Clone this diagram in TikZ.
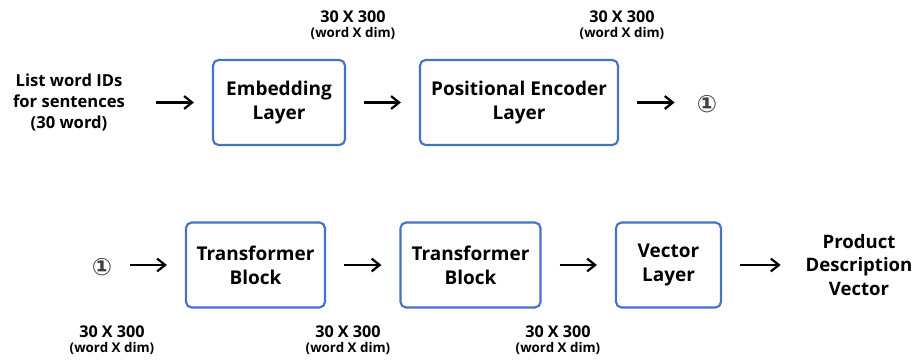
\documentclass[tikz,border=0pt]{standalone}
\usepackage{fontspec}
\setmainfont{Open Sans}
\newfontfamily\circfont{DejaVu Sans}
\usetikzlibrary{arrows.meta}
\definecolor{boxblue}{RGB}{68,114,196}
\definecolor{circgray}{RGB}{64,64,64}

\begin{document}
\begin{tikzpicture}[x=0.025cm,y=-0.025cm,
    layer/.style={draw=boxblue, line width=1.5pt, rounded corners=4pt, align=center,
        font=\bfseries\fontsize{13.5}{17}\selectfont, minimum height=2.125cm},
    txt/.style={align=center, font=\bfseries\fontsize{13.2}{17}\selectfont},
    circ/.style={inner sep=0pt, text=circgray, font=\circfont\bfseries\fontsize{17}{17}\selectfont},
    dimlbl/.style={align=center, font=\bfseries\fontsize{11.5}{14}\selectfont},
    flow/.style={-{Straight Barb[length=2mm,width=3.2mm]}, line width=1.6pt,
        shorten <=0.45cm, shorten >=0.45cm}]
    \useasboundingbox (0,0) rectangle (916,360);

    % first row
    \node[txt, font=\bfseries\fontsize{11.8}{15}\selectfont] (ids) at (69,102.5) {List word IDs\\for sentences\\(30 word)};
    \node[layer, minimum width=3.3cm] (emb) at (279,102.5) {Embedding\\Layer};
    \node[layer, minimum width=4.95cm] (pos) at (519,102.5) {Positional Encoder\\Layer};
    \node[circ] (jumpA) at (707,104) {①};

    % second row
    \node[circ] (jumpB) at (102,267) {①};
    \node[layer, minimum width=3.475cm] (tfA) at (255.5,265) {Transformer\\Block};
    \node[layer, minimum width=3.5cm] (tfB) at (470.5,265) {Transformer\\Block};
    \node[layer, minimum width=2.625cm] (vec) at (668.5,265) {Vector\\Layer};
    \node[txt] (pdv) at (859,265) {Product\\Description\\Vector};

    % sizes
    \node[dimlbl] (dimA) at (353,25) {30 X 300\\[-3pt]{\fontsize{9.5}{11}\selectfont (word X dim)}};
    \node[dimlbl] (dimB) at (622,25) {30 X 300\\[-3pt]{\fontsize{9.5}{11}\selectfont (word X dim)}};
    \node[dimlbl] (dimC) at (112,340) {30 X 300\\[-3pt]{\fontsize{9.5}{11}\selectfont (word X dim)}};
    \node[dimlbl] (dimD) at (348,340) {30 X 300\\[-3pt]{\fontsize{9.5}{11}\selectfont (word X dim)}};
    \node[dimlbl] (dimE) at (558,340) {30 X 300\\[-3pt]{\fontsize{9.5}{11}\selectfont (word X dim)}};

    % arrows
    \draw[flow, shorten <=0.65cm] (ids.east) -- (emb.west);
    \draw[flow] (emb) -- (pos);
    \draw[flow, shorten >=0.55cm] (pos.east) -- (pos.east -| jumpA.west);
    \draw[flow] (jumpB.east |- tfA.west) -- (tfA.west);
    \draw[flow] (tfA) -- (tfB);
    \draw[flow] (tfB) -- (vec);
    \draw[flow, shorten >=0.5cm] (vec.east) -- (vec.east -| pdv.west);
\end{tikzpicture}
\end{document}
